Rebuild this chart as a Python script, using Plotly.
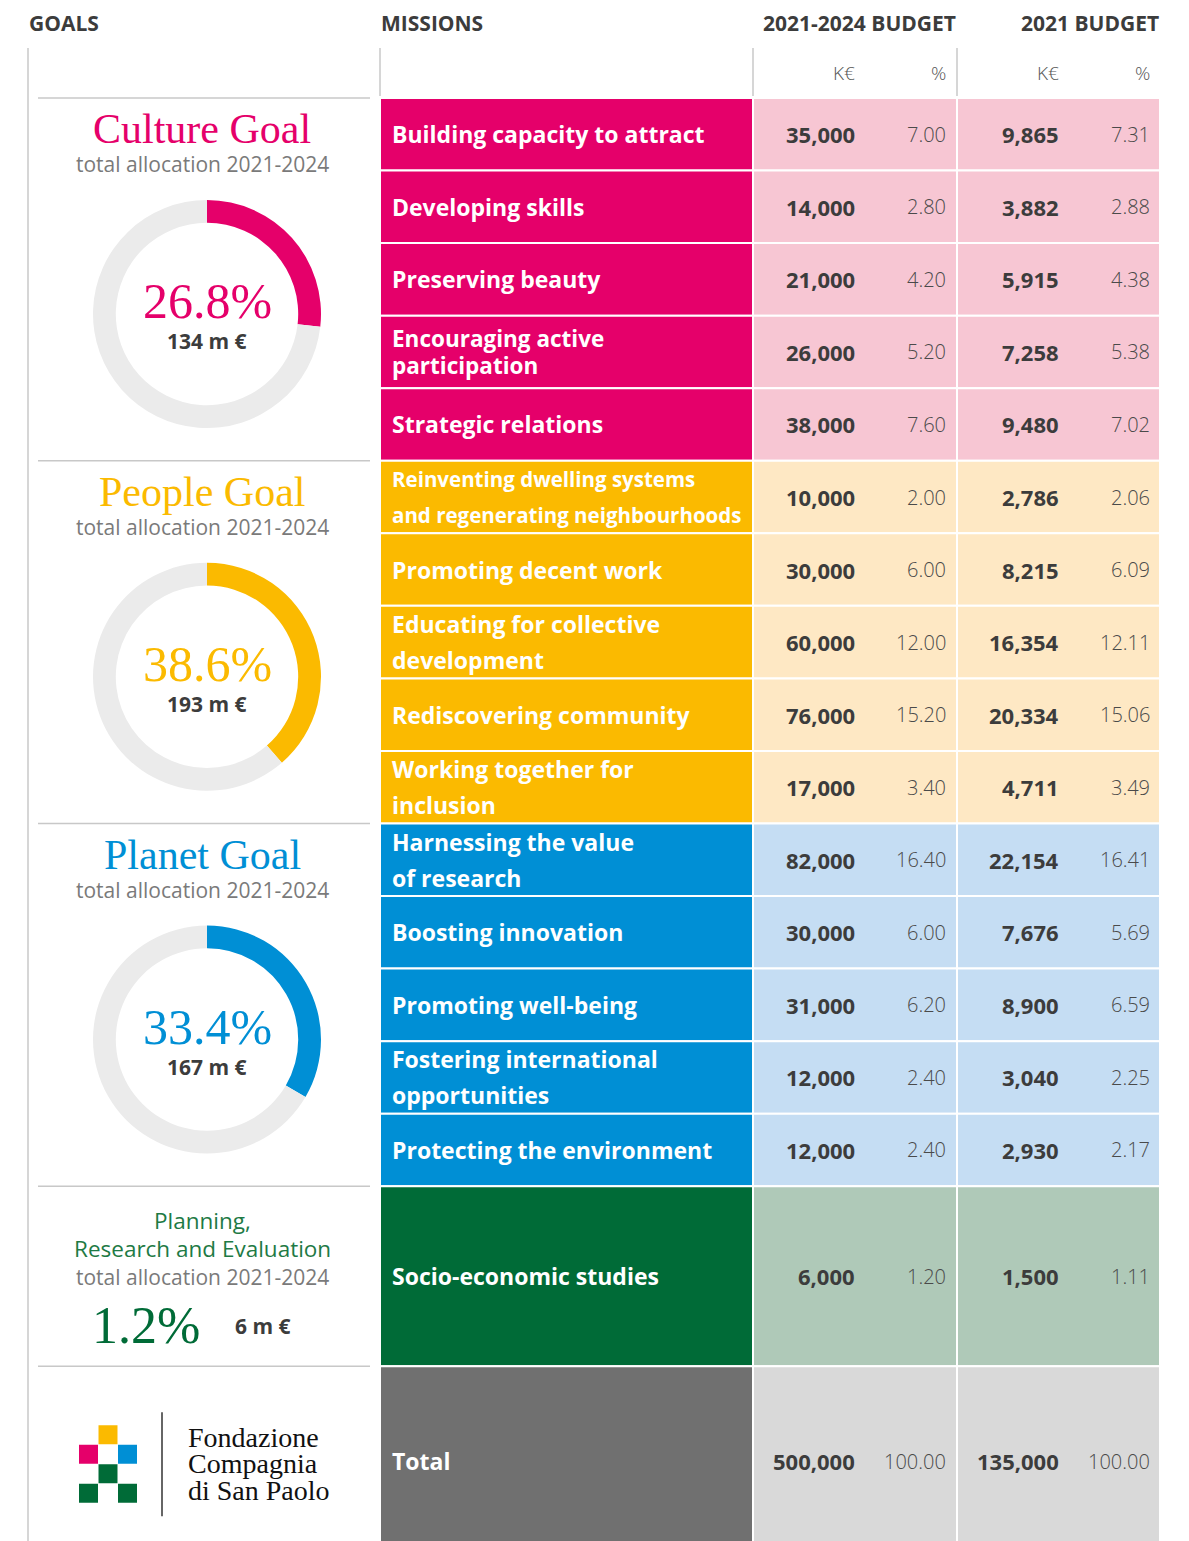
import plotly.graph_objects as go

W, H = 1189, 1541

# ---------------- data ----------------
goal_keys = ["culture", "people", "planet"]
goal_names = ["Culture Goal", "People Goal", "Planet Goal"]
goal_share = [26.8, 38.6, 33.4]
goal_amount = ["134 m €", "193 m €", "167 m €"]
planning_title = ["Planning,", "Research and Evaluation"]
planning_share = 1.2
planning_amount = "6 m €"
subtitle_text = "total allocation 2021-2024"

missions = [
    "Building capacity to attract",
    "Developing skills",
    "Preserving beauty",
    "Encouraging active<br>participation",
    "Strategic relations",
    "Reinventing dwelling systems<br>and regenerating neighbourhoods",
    "Promoting decent work",
    "Educating for collective<br>development",
    "Rediscovering community",
    "Working together for<br>inclusion",
    "Harnessing the value<br>of research",
    "Boosting innovation",
    "Promoting well-being",
    "Fostering international<br>opportunities",
    "Protecting the environment",
    "Socio-economic studies",
    "Total",
]
mission_goal = ["culture"] * 5 + ["people"] * 5 + ["planet"] * 5 + ["planning", "total"]
budget_4y_k = [35000, 14000, 21000, 26000, 38000, 10000, 30000, 60000, 76000, 17000,
               82000, 30000, 31000, 12000, 12000, 6000, 500000]
budget_4y_pct = [7.00, 2.80, 4.20, 5.20, 7.60, 2.00, 6.00, 12.00, 15.20, 3.40,
                 16.40, 6.00, 6.20, 2.40, 2.40, 1.20, 100.00]
budget_21_k = [9865, 3882, 5915, 7258, 9480, 2786, 8215, 16354, 20334, 4711,
               22154, 7676, 8900, 3040, 2930, 1500, 135000]
budget_21_pct = [7.31, 2.88, 4.38, 5.38, 7.02, 2.06, 6.09, 12.11, 15.06, 3.49,
                 16.41, 5.69, 6.59, 2.25, 2.17, 1.11, 100.00]

headers = ["GOALS", "MISSIONS", "2021-2024 BUDGET", "2021 BUDGET"]
unit_labels = ["K€", "%"]
logo_lines = ["Fondazione", "Compagnia", "di San Paolo"]

# ---------------- styles / layout ----------------
palette = {
    "culture": ("#E5006A", "#F7C6D3"),
    "people": ("#FBBA00", "#FEE8C4"),
    "planet": ("#008FD5", "#C5DDF3"),
    "planning": ("#006B37", "#AFC9B8"),
    "total": ("#707070", "#D9D9D9"),
}
DARK = "#3C3C3C"
PCT = "#4A4A4A"
GREYTXT = "#7A7A7A"
LINE = "#C8C8C8"
SANS = "Open Sans, Lato, sans-serif"
SERIF = "Liberation Serif, DejaVu Serif, serif"

table_top = 98
row_heights = [72.55] * 15 + [180, 190]
col_mission = (380, 753)
col_b1 = (753, 957)
col_b2 = (957, 1160)
x_text_mission = 390
x_b1_k, x_b1_p = 857, 948
x_b2_k, x_b2_p = 1061, 1152
goals_x0, goals_x1 = 38, 370
goal_cx = 202
donut_cx = 207
donut_r = 114

fig = go.Figure()
shapes = []
ann = []


def A(x, y, text, size, color=DARK, family=SANS, weight=None, xanchor="center", **kw):
    f = dict(size=size, color=color, family=family)
    if weight is not None:
        f["weight"] = weight
    ann.append(dict(x=x, y=y, xref="x", yref="y", text=text, showarrow=False,
                    xanchor=xanchor, yanchor="middle", font=f, **kw))


# header
A(27, 23, headers[0], 21, weight="bold", xanchor="left")
A(379, 23, headers[1], 21, weight="bold", xanchor="left")
A(958, 23, headers[2], 21, weight="bold", xanchor="right")
A(1161, 23, headers[3], 21, weight="bold", xanchor="right")
for xk, xp in [(x_b1_k, x_b1_p), (x_b2_k, x_b2_p)]:
    A(xk, 73, unit_labels[0], 19, color="#555555", weight=300, xanchor="right")
    A(xp, 73, unit_labels[1], 19, color="#555555", weight=300, xanchor="right")

# header vertical lines
for xv in [col_mission[0], col_b1[0], col_b2[0]]:
    shapes.append(dict(type="line", xref="x", yref="y", x0=xv, x1=xv, y0=48, y1=table_top - 2,
                       line=dict(color=LINE, width=1.5)))
shapes.append(dict(type="line", xref="x", yref="y", x0=28, x1=28, y0=48, y1=H + 20,
                   line=dict(color=LINE, width=1.5)))

# table rows
row_tops = []
y = table_top
for h in row_heights:
    row_tops.append(y)
    y += h

line_gap = {3: 13.5, 5: 18, 7: 18, 9: 18, 10: 18, 13: 18}
label_size = {3: 22.5, 5: 20.5}

for i, name in enumerate(missions):
    y0 = row_tops[i]
    y1 = y0 + row_heights[i]
    yc = (y0 + y1) / 2
    dark, light = palette[mission_goal[i]]
    shapes.append(dict(type="rect", xref="x", yref="y", x0=col_mission[0], x1=col_mission[1],
                       y0=y0, y1=y1, fillcolor=dark, line=dict(color="white", width=2), layer="below"))
    for c in (col_b1, col_b2):
        shapes.append(dict(type="rect", xref="x", yref="y", x0=c[0], x1=c[1], y0=y0, y1=y1,
                           fillcolor=light, line=dict(color="white", width=2), layer="below"))
    parts = name.split("<br>")
    sz = label_size.get(i, 23)
    if len(parts) == 1:
        A(x_text_mission, yc, parts[0], sz, color="white", weight="bold", xanchor="left")
    else:
        g = line_gap.get(i, 18)
        A(x_text_mission, yc - g, parts[0], sz, color="white", weight="bold", xanchor="left")
        A(x_text_mission, yc + g, parts[1], sz, color="white", weight="bold", xanchor="left")
    A(x_b1_k, yc, f"{budget_4y_k[i]:,}", 22, weight="bold", xanchor="right")
    A(x_b1_p, yc, f"{budget_4y_pct[i]:.2f}", 20, color=PCT, weight=300, xanchor="right")
    A(x_b2_k, yc, f"{budget_21_k[i]:,}", 22, weight="bold", xanchor="right")
    A(x_b2_p, yc, f"{budget_21_pct[i]:.2f}", 20, color=PCT, weight=300, xanchor="right")

# goal separators
sep_rows = [0, 5, 10, 15, 16]
for r in sep_rows:
    yv = row_tops[r]
    shapes.append(dict(type="line", xref="x", yref="y", x0=goals_x0, x1=goals_x1, y0=yv, y1=yv,
                       line=dict(color=LINE, width=1.5)))

# goals with donuts
for gi, key in enumerate(goal_keys):
    top = row_tops[gi * 5]
    dark, _ = palette[key]
    A(goal_cx, top + 31, goal_names[gi], 42, color=dark, family=SERIF)
    A(goal_cx, top + 66, subtitle_text, 21, color=GREYTXT)
    cy = top + 216
    fig.add_trace(go.Pie(
        values=[goal_share[gi], 100 - goal_share[gi]],
        marker=dict(colors=[dark, "#EBEBEB"], line=dict(width=0)),
        hole=0.8, sort=False, direction="clockwise", rotation=0,
        textinfo="none", hoverinfo="skip", showlegend=False,
        domain=dict(x=[(donut_cx - donut_r) / W, (donut_cx + donut_r) / W],
                    y=[1 - (cy + donut_r) / H, 1 - (cy - donut_r) / H]),
    ))
    A(donut_cx, cy - 13, f"{goal_share[gi]:.1f}%", 50, color=dark, family=SERIF)
    A(donut_cx, cy + 27, goal_amount[gi], 21, weight="bold")

# planning block
ptop = row_tops[15]
pgreen = "#1E7A45"
A(goal_cx, ptop + 34, planning_title[0], 22.5, color=pgreen)
A(goal_cx, ptop + 62, planning_title[1], 22.5, color=pgreen)
A(goal_cx, ptop + 91, subtitle_text, 21, color=GREYTXT)
A(146, ptop + 139, f"{planning_share:.1f}%", 52, color=palette["planning"][0], family=SERIF)
A(263, ptop + 140, planning_amount, 21, weight="bold")

# logo
ltop = row_tops[16]
cell = 19.5
lx0, ly0 = 79, ltop + 59
logo_cells = [(1, 0, palette["people"][0]), (0, 1, palette["culture"][0]), (2, 1, palette["planet"][0]),
              (1, 2, palette["planning"][0]), (0, 3, palette["planning"][0]), (2, 3, palette["planning"][0])]
for cx, cyy, col in logo_cells:
    shapes.append(dict(type="rect", xref="x", yref="y", x0=lx0 + cx * cell, x1=lx0 + (cx + 1) * cell - 0.5,
                       y0=ly0 + cyy * cell, y1=ly0 + (cyy + 1) * cell - 0.5, fillcolor=col, line=dict(width=0)))
shapes.append(dict(type="line", xref="x", yref="y", x0=162, x1=162, y0=ltop + 46, y1=ltop + 150,
                   line=dict(color="#333333", width=1.5)))
for k, t in enumerate(logo_lines):
    A(186, ltop + 71 + k * 26.5, t, 28, color="#111111", family=SERIF, xanchor="left")

fig.update_layout(
    width=W, height=H, margin=dict(l=0, r=0, t=0, b=0),
    paper_bgcolor="white", plot_bgcolor="rgba(0,0,0,0)",
    xaxis=dict(range=[0, W], visible=False, fixedrange=True),
    yaxis=dict(range=[H, 0], visible=False, fixedrange=True),
    shapes=shapes, annotations=ann, showlegend=False,
)
fig.write_html("out.html", config={"displayModeBar": False},
               post_script="document.body.style.margin='0';")
